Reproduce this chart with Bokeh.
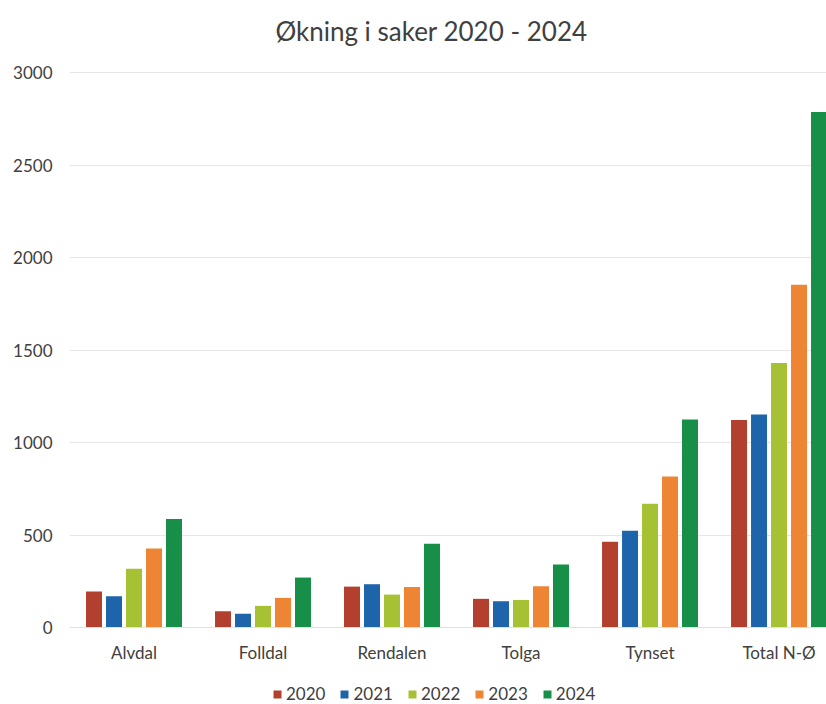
from bokeh.plotting import figure
from bokeh.models import (ColumnDataSource, Range1d, FixedTicker, Legend, LegendItem,
                          Label, LinearAxis)
from bokeh.embed import file_html
from bokeh.resources import INLINE

categories = ["Alvdal", "Folldal", "Rendalen", "Tolga", "Tynset", "Total N-Ø"]
years = ["2020", "2021", "2022", "2023", "2024"]
v2020 = [194, 88, 221, 155, 464, 1122]
v2021 = [169, 75, 234, 142, 523, 1152]
v2022 = [317, 117, 178, 149, 669, 1430]
v2023 = [427, 160, 219, 223, 816, 1853]
v2024 = [587, 270, 453, 340, 1124, 2786]
series = [v2020, v2021, v2022, v2023, v2024]
colors = ["#b3402e", "#1e64ab", "#a6c133", "#ee8535", "#178f48"]
y_ticks = [0, 500, 1000, 1500, 2000, 2500, 3000]
title_text = "Økning i saker 2020 - 2024"

FONT = "Lato"
TXT = "#404040"

p = figure(frame_width=757, frame_height=704, output_backend="svg", toolbar_location=None,
           x_range=Range1d(0, 5.868), y_range=Range1d(-416.2, 3389.2),
           x_axis_location=None,
           min_border_left=69, min_border_right=0, min_border_top=0, min_border_bottom=0)
p.outline_line_color = None
p.background_fill_color = "white"

stride = 0.155
width = 0.124
items = []
for i, (yr, vals, c) in enumerate(zip(years, series, colors)):
    xs = [k + 0.5 + (i - 2) * stride for k in range(len(categories))]
    src = ColumnDataSource(dict(x=xs, top=vals))
    r = p.vbar(x="x", top="top", bottom=0, width=width, source=src,
               fill_color=c, line_color=None)
    items.append(LegendItem(label=yr, renderers=[r]))

xaxis = LinearAxis(ticker=FixedTicker(ticks=[k + 0.5 for k in range(len(categories))]),
                   major_label_overrides={k + 0.5: name for k, name in enumerate(categories)},
                   fixed_location=0)
p.add_layout(xaxis, "below")
p.yaxis.ticker = FixedTicker(ticks=y_ticks)

for ax in (xaxis, p.yaxis[0]):
    ax.major_tick_line_color = None
    ax.minor_tick_line_color = None
    ax.major_tick_in = 0
    ax.major_tick_out = 0
    ax.major_label_text_font = FONT
    ax.major_label_text_font_size = "17px"
    ax.major_label_text_color = TXT
xaxis.axis_line_color = "#e0e0e0"
p.yaxis.axis_line_color = None
xaxis.major_label_standoff = 14
p.yaxis.major_label_standoff = 17

p.xgrid.grid_line_color = None
p.ygrid.grid_line_color = "#e6e6e6"
p.ygrid.grid_line_width = 1

title = Label(x=362, y=674, x_units="screen", y_units="screen", text=title_text,
              text_font=FONT, text_font_size="26px", text_color=TXT,
              text_align="center", text_baseline="middle")
p.add_layout(title)

legend = Legend(items=items, orientation="horizontal", location=(203, 0),
                label_text_font=FONT, label_text_font_size="17px", label_text_color=TXT,
                glyph_width=10, glyph_height=10, spacing=14, label_standoff=4,
                border_line_color=None, background_fill_alpha=0, padding=2, margin=0)
p.add_layout(legend, "center")

open("out.html", "w").write(file_html(p, INLINE))
